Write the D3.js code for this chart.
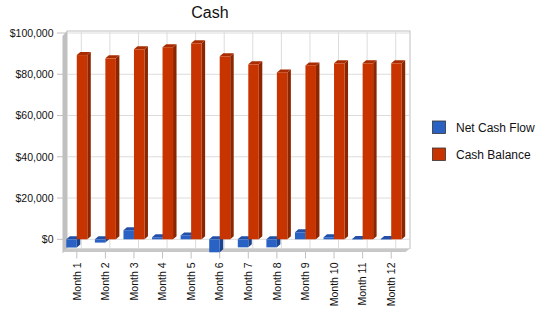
<!DOCTYPE html>
<html>
<head>
<meta charset="utf-8">
<script src="https://cdn.jsdelivr.net/npm/d3@7"></script>
<style>
html,body{margin:0;padding:0;background:#fff;}
svg{display:block;font-family:"Liberation Sans",Arial,sans-serif;}
</style>
</head>
<body>
<script>
const categories = ["Month 1","Month 2","Month 3","Month 4","Month 5","Month 6","Month 7","Month 8","Month 9","Month 10","Month 11","Month 12"];
const netCashFlow = [-4000,-1600,4400,1000,1900,-6300,-3900,-3900,3400,1000,100,100];
const cashBalance = [89300,87700,92100,93100,95000,88700,84800,80900,84300,85300,85300,85300];
const seriesNames = ["Net Cash Flow","Cash Balance"];
const yTicks = [0,20000,40000,60000,80000,100000];
const title = "Cash";

const W = 550, H = 318;
const svg = d3.select("body").append("svg").attr("width", W).attr("height", H);

// 3D geometry
const frontLeft = 62.5, frontRight = 405.5;
const wdx = 4.5, wdy = 5;           // wall depth offset
const wallTop = 31, wallBottom = 248.5;
const bdx = 3.5, bdy = 3;           // bar depth offset
const barW = 10.5;

const x = d3.scaleBand().domain(categories).range([frontLeft, frontRight]).padding(0);
const y = d3.scaleLinear().domain([0, 100000]).range([239.3, 33]);

const colors = {
  blue: {front: "#2a62c4", side: "#1b428c", top: "#2350a6"},
  red:  {front: "#c83400", side: "#8c2600", top: "#a82c00"}
};

// Back wall
svg.append("rect").attr("x", frontLeft + wdx).attr("y", wallTop)
  .attr("width", frontRight - frontLeft).attr("height", wallBottom - wallTop)
  .attr("fill", "#fff").attr("stroke", "#c0c0c0").attr("stroke-width", 1);

// Horizontal gridlines on wall
svg.append("g").selectAll("line").data(yTicks).join("line")
  .attr("x1", frontLeft + wdx).attr("x2", frontRight + wdx)
  .attr("y1", d => y(d)).attr("y2", d => y(d))
  .attr("stroke", "#dcdcdc").attr("stroke-width", 1);

// Vertical gridlines on wall
svg.append("g").selectAll("line").data(categories).join("line")
  .attr("x1", d => x(d) + x.bandwidth()/2 + wdx).attr("x2", d => x(d) + x.bandwidth()/2 + wdx)
  .attr("y1", wallTop).attr("y2", wallBottom)
  .attr("stroke", "#dcdcdc").attr("stroke-width", 1);

// Left wall
svg.append("polygon")
  .attr("points", [[frontLeft, wallTop + wdy],[frontLeft + wdx, wallTop],[frontLeft + wdx, wallBottom],[frontLeft, wallBottom + wdy]].map(p => p.join(",")).join(" "))
  .attr("fill", "#c0c0c0");

// Floor
svg.append("polygon")
  .attr("points", [[frontLeft, wallBottom + wdy - 1.5],[frontLeft + wdx, wallBottom],[frontRight + wdx, wallBottom],[frontRight, wallBottom + wdy - 1.5]].map(p => p.join(",")).join(" "))
  .attr("fill", "#c8c8c8");
svg.append("line").attr("x1", frontLeft + wdx).attr("x2", frontRight + wdx)
  .attr("y1", wallBottom).attr("y2", wallBottom).attr("stroke", "#d8d8d8");

// Y ticks and labels
const yAxis = svg.append("g");
yAxis.selectAll("line").data(yTicks).join("line")
  .attr("x1", frontLeft - 5.5).attr("x2", frontLeft + wdx)
  .attr("y1", d => y(d)).attr("y2", d => y(d))
  .attr("stroke", "#c0c0c0");
yAxis.selectAll("text").data(yTicks).join("text")
  .attr("x", 53.5).attr("y", d => y(d)).attr("dy", "0.36em")
  .attr("text-anchor", "end").attr("font-size", "10.5px").attr("fill", "#111")
  .text(d => "$" + d3.format(",")(d));

// X ticks and labels
const xAxis = svg.append("g");
xAxis.selectAll("line").data(categories).join("line")
  .attr("x1", d => x(d) + x.bandwidth()/2).attr("x2", d => x(d) + x.bandwidth()/2)
  .attr("y1", wallBottom + wdy - 1.5).attr("y2", wallBottom + wdy + 5)
  .attr("stroke", "#c0c0c0");
xAxis.selectAll("text").data(categories).join("text")
  .attr("transform", d => `translate(${x(d) + x.bandwidth()/2},262.5) rotate(-90)`)
  .attr("dy", "0.36em").attr("text-anchor", "end")
  .attr("font-size", "10.5px").attr("fill", "#111")
  .text(d => d);

// 3D bars
function drawBar(g, x0, v, c) {
  const yv = y(v), y0 = y(0);
  const top = Math.min(yv, y0), bot = Math.max(yv, y0);
  const h = Math.max(bot - top, 0.5);
  // side
  g.append("polygon").attr("points", [[x0 + barW, top],[x0 + barW + bdx, top - bdy],[x0 + barW + bdx, top + h - bdy],[x0 + barW, top + h]].map(p => p.join(",")).join(" "))
    .attr("fill", c.side);
  // top
  g.append("polygon").attr("points", [[x0, top],[x0 + bdx, top - bdy],[x0 + barW + bdx, top - bdy],[x0 + barW, top]].map(p => p.join(",")).join(" "))
    .attr("fill", c.top);
  // front
  g.append("rect").attr("x", x0).attr("y", top).attr("width", barW).attr("height", h)
    .attr("fill", c.front);
}

const bars = svg.append("g");
categories.forEach((cat, i) => {
  const cx = x(cat) + x.bandwidth()/2;
  drawBar(bars.append("g"), cx - barW, netCashFlow[i], colors.blue);
  drawBar(bars.append("g"), cx, cashBalance[i], colors.red);
});

// Title
svg.append("text").attr("x", 210).attr("y", 17.5).attr("text-anchor", "middle")
  .attr("font-size", "16px").attr("fill", "#111").text(title);

// Legend
const legend = svg.append("g");
const legendColors = [colors.blue.front, colors.red.front];
seriesNames.forEach((name, i) => {
  const ly = 121 + i * 27;
  legend.append("rect").attr("x", 432.5).attr("y", ly).attr("width", 13).attr("height", 12.5)
    .attr("fill", legendColors[i]).attr("stroke", "#333").attr("stroke-width", 0.8);
  legend.append("text").attr("x", 456).attr("y", ly + 6.5).attr("dy", "0.36em")
    .attr("font-size", "12px").attr("fill", "#111").text(name);
});
</script>
</body>
</html>
